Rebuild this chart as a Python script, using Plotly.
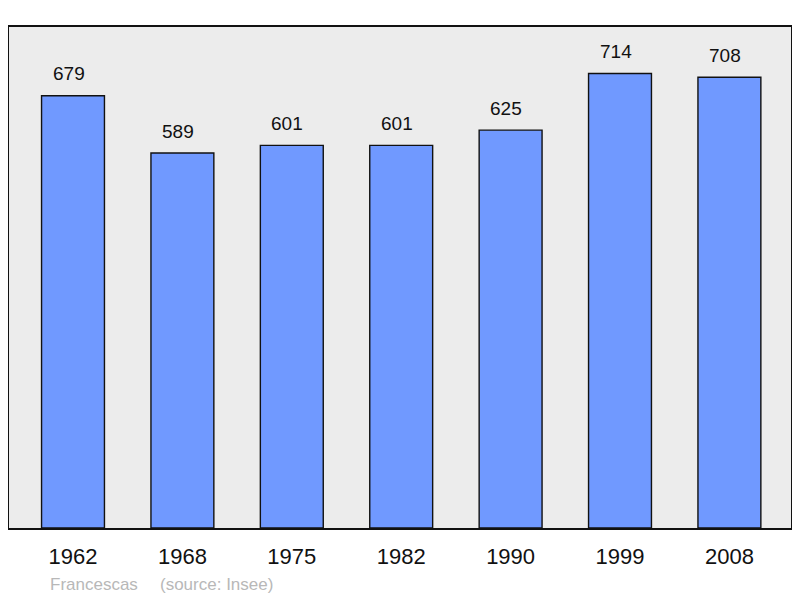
import plotly.graph_objects as go

years = ["1962", "1968", "1975", "1982", "1990", "1999", "2008"]
population = [679, 589, 601, 601, 625, 714, 708]

# page has an 8px body margin; size the figure so it fills the 800x598 window
W, H = 792, 590
ml, mr, mt, mb = 1, 9, 19, 70
pw = W - ml - mr
ph = H - mt - mb

xs = list(range(len(years)))
FONT = "Liberation Sans, Arial"

fig = go.Figure()
fig.add_trace(go.Bar(
    x=xs, y=population, width=0.575,
    marker=dict(color="#7099ff", line=dict(color="#111111", width=1.4)),
    hoverinfo="skip",
))

for x, v in zip(xs, population):
    fig.add_annotation(x=x, y=v, text=str(v), showarrow=False, yshift=22, xshift=-4.5,
                       font=dict(size=19, color="#111111", family=FONT))

def px_to_paper(px):
    return (px - ml) / pw

foot_y = -(576.7 - (H - mb)) / ph
fig.add_annotation(xref="paper", yref="paper", x=px_to_paper(40), y=foot_y,
                   xanchor="left", yanchor="middle", text="Francescas", showarrow=False,
                   font=dict(size=17, color="#b8b8b8", family=FONT))
fig.add_annotation(xref="paper", yref="paper", x=px_to_paper(149.5), y=foot_y,
                   xanchor="left", yanchor="middle", text="(source: Insee)", showarrow=False,
                   font=dict(size=17, color="#b8b8b8", family=FONT))

fig.update_layout(
    width=W, height=H,
    margin=dict(l=ml, r=mr, t=mt, b=mb),
    paper_bgcolor="white", plot_bgcolor="#ececec",
    showlegend=False,
    font=dict(family=FONT, color="#111111"),
)
fig.update_xaxes(
    range=[-0.585, 6.563], tickmode="array", tickvals=xs, ticktext=years,
    tickfont=dict(size=22, color="#111111"), showgrid=False, zeroline=False,
    showline=True, mirror=True, linecolor="#111111", linewidth=2,
    ticks="", ticklabelstandoff=8,
)
fig.update_yaxes(
    range=[0, 787], showticklabels=False, showgrid=False, zeroline=False,
    showline=True, mirror=True, linecolor="#111111", linewidth=2, ticks="",
)

fig.write_html("out.html")
